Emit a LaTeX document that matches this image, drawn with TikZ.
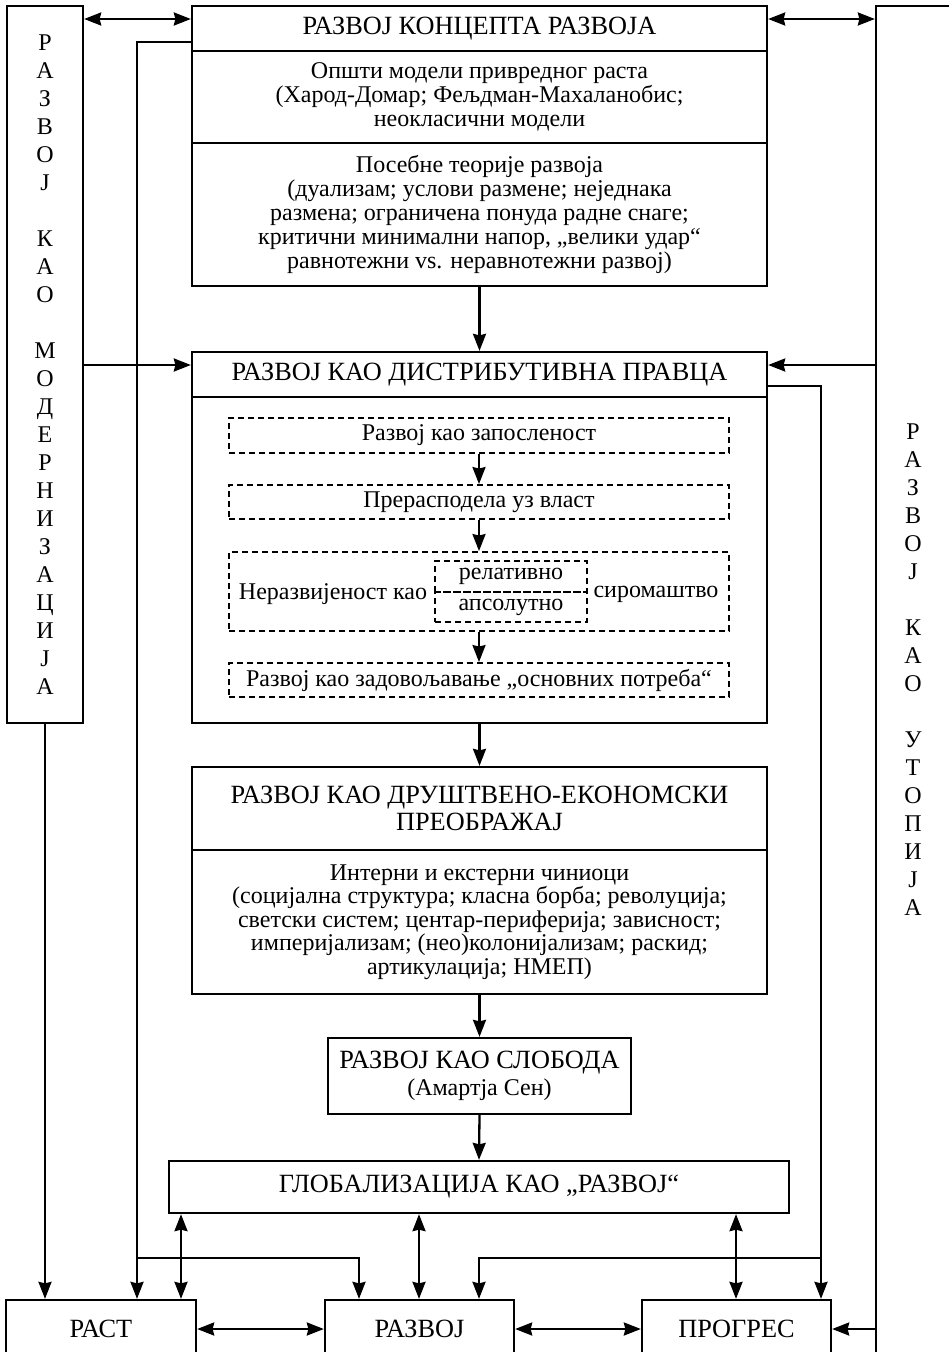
\documentclass[tikz,border=0pt]{standalone}
\usepackage{fontspec}
\setmainfont{Liberation Serif}
\usetikzlibrary{arrows.meta,positioning}

\tikzset{
  box/.style={draw, line width=2.3pt, align=center, inner sep=0pt},
  dbox/.style={draw, line width=1.9pt, dash pattern=on 6pt off 4pt, align=center, inner sep=0pt},
  ttl/.style={font=\fontsize{26.3}{27}\selectfont},
  txt/.style={font=\fontsize{24}{24}\selectfont},
  col/.style={font=\fontsize{24}{28}\selectfont, align=center},
  link/.style={line width=2.3pt, -{Stealth[length=17pt,width=13pt,inset=1.5pt]}},
  dlink/.style={line width=2.3pt, {Stealth[length=17pt,width=13pt,inset=1.5pt]}-{Stealth[length=17pt,width=13pt,inset=1.5pt]}},
}

\begin{document}
\begin{tikzpicture}[x=1pt,y=-1pt]
    \useasboundingbox (0,0) rectangle (949,1352);
    \clip (0,0) rectangle (949,1352);

    % side columns
    \node[box, col, minimum width=76pt, minimum height=717pt] (mod) at (45,364.5)
        {Р\\А\\З\\В\\О\\Ј\\[28pt]К\\А\\О\\[28pt]М\\О\\Д\\Е\\Р\\Н\\И\\З\\А\\Ц\\И\\Ј\\А};
    \node[box, minimum width=80pt, minimum height=1394pt] (utop) at (916,703) {};
    \node[col] (utoptxt) at (913,670)
        {Р\\А\\З\\В\\О\\Ј\\[28pt]К\\А\\О\\[28pt]У\\Т\\О\\П\\И\\Ј\\А};

    % concept of development
    \node[box, ttl, minimum width=575pt, minimum height=45pt] (konc) at (479.5,28.5) {РАЗВОЈ КОНЦЕПТА РАЗВОЈА};
    \node[box, txt, minimum width=575pt, minimum height=92pt] (koncA) at (479.5,97)
        {Општи модели привредног раста\\(Харод-Домар; Фељдман-Махаланобис;\\неокласични модели};
    \node[box, txt, minimum width=575pt, minimum height=143pt] (koncB) at (479.5,214.5)
        {Посебне теорије развоја\\(дуализам; услови размене; неједнака\\размена; ограничена понуда радне снаге;\\критични минимални напор, „велики удар“\\равнотежни vs. неравнотежни развој)};

    % distributive
    \node[box, ttl, minimum width=575pt, minimum height=45pt] (distr) at (479.5,374.5) {РАЗВОЈ КАО ДИСТРИБУТИВНА ПРАВЦА};
    \node[box, minimum width=575pt, minimum height=326pt] (distrB) at (479.5,560) {};
    \node[dbox, txt, minimum width=500pt, minimum height=35pt] (zap) at (479,435.5) {Развој као запосленост};
    \node[dbox, txt, minimum width=500pt, minimum height=34pt] (pre) at (479,502) {Прерасподела уз власт};
    \node[dbox, minimum width=500pt, minimum height=79pt] (pov) at (479,591.5) {};
    \node[txt] (povL) at (333,594) {Неразвијеност као};
    \node[txt] (povR) at (656,594) {сиромаштво};
    \node[dbox, txt, minimum width=152pt, minimum height=31pt] (rel) at (511,576.5) {релативно};
    \node[dbox, txt, minimum width=152pt, minimum height=30pt] (aps) at (511,607) {апсолутно};
    \node[dbox, txt, minimum width=500pt, minimum height=34pt] (potr) at (479,680) {Развој као задовољавање „основних потреба“};

    % socio-economic
    \node[box, ttl, minimum width=575pt, minimum height=83pt] (socio) at (479.5,808.5)
        {РАЗВОЈ КАО ДРУШТВЕНО-ЕКОНОМСКИ\\ПРЕОБРАЖАЈ};
    \node[box, txt, font=\fontsize{24}{23.5}\selectfont, minimum width=575pt, minimum height=144pt] (socioB) at (479.5,922)
        {Интерни и екстерни чиниоци\\(социјална структура; класна борба; револуција;\\светски систем; центар-периферија; зависност;\\империјализам; (нео)колонијализам; раскид;\\артикулација; НМЕП)};

    \node[box, ttl, minimum width=303pt, minimum height=76pt] (slob) at (479.5,1076)
        {РАЗВОЈ КАО СЛОБОДА\\{\fontsize{24}{24}\selectfont (Амартја Сен)}};
    \node[box, ttl, minimum width=620pt, minimum height=52pt] (glob) at (479,1187) {ГЛОБАЛИЗАЦИЈА КАО „РАЗВОЈ“};

    % bottom row
    \node[box, ttl, minimum width=190pt, minimum height=58pt] (rast) at (101,1329) {РАСТ};
    \node[box, ttl, minimum width=189pt, minimum height=58pt] (razv) at (419.5,1329) {РАЗВОЈ};
    \node[box, ttl, minimum width=189pt, minimum height=58pt] (prog) at (736.5,1329) {ПРОГРЕС};

    \coordinate (jl) at (137,1258);
    \coordinate (jr) at (821,1258);

    \draw[dlink] (mod.east |- 0,19) -- (konc.west |- 0,19);
    \draw[dlink] (konc.east |- 0,19) -- (utop.west |- 0,19);
    \draw[link] (mod.east |- 0,365) -- (distr.west |- 0,365);
    \draw[link] (utop.west |- 0,365) -- (distr.east |- 0,365);

    \draw[link] (konc.west |- 0,42) -| (jl) -- (jl |- rast.north);
    \draw[link] (jl) -| (359,0 |- razv.north);
    \draw[link] (mod.south) -- (mod.south |- rast.north);
    \draw[link] (distr.east |- 0,386) -| (jr) -- (jr |- prog.north);
    \draw[link] (jr) -| (479,0 |- razv.north);

    \path[link] (koncB.south) edge (distr.north);
    \path[link] (zap.south) edge (pre.north);
    \path[link] (pre.south) edge (pov.north);
    \path[link] (pov.south) edge (potr.north);
    \path[link] (distrB.south) edge (socio.north);
    \path[link] (socioB.south) edge (slob.north);
    \path[link] (slob.south) edge (glob.north);

    \draw[dlink] (181,0 |- glob.south) -- (181,0 |- rast.north);
    \draw[dlink] (419,0 |- glob.south) -- (419,0 |- razv.north);
    \draw[dlink] (736,0 |- glob.south) -- (736,0 |- prog.north);

    \draw[dlink] (rast.east) -- (razv.west);
    \draw[dlink] (razv.east) -- (prog.west);
    \draw[link] (utop.west |- prog.east) -- (prog.east);
\end{tikzpicture}
\end{document}
